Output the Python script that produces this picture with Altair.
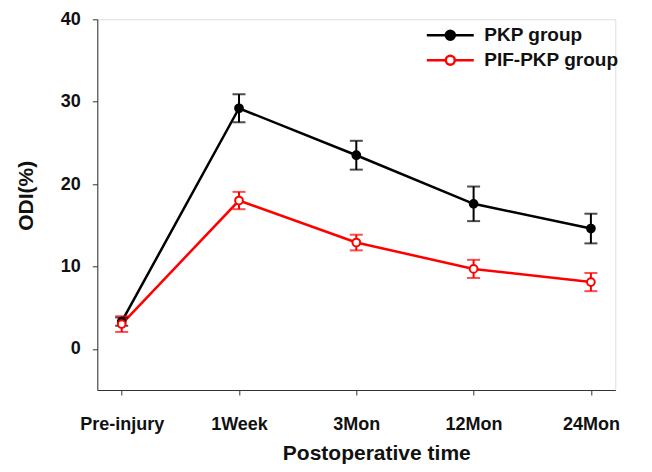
import altair as alt
import pandas as pd

times = ["Pre-injury", "1Week", "3Mon", "12Mon", "24Mon"]
groups = ["PKP group", "\u2004PIF-PKP group"]
pkp_mean = [3.3, 29.2, 23.5, 17.6, 14.6]
pkp_err = [0.5, 1.7, 1.75, 2.1, 1.8]
pif_mean = [3.0, 18.0, 12.9, 9.7, 8.1]
pif_err = [0.95, 1.05, 0.95, 1.1, 1.1]

rows = []
for g, means, errs in [(groups[0], pkp_mean, pkp_err), (groups[1], pif_mean, pif_err)]:
    for t, m, e in zip(times, means, errs):
        rows.append({"time": t, "group": g, "mean": m, "lo": m - e, "hi": m + e})
df = pd.DataFrame(rows)

FONT = "Liberation Sans"
stroke_colors = ["#000000", "#ff0000"]
fill_colors = ["#000000", "#ffffff"]

x_enc = alt.X(
    "time:N",
    sort=times,
    scale=alt.Scale(type="point", padding=0.208),
    axis=alt.Axis(
        title="Postoperative time",
        labelAngle=0,
        labelFont=FONT, labelFontSize=18, labelFontWeight="bold", labelColor="#111",
        labelBaseline="alphabetic", labelPadding=34,
        tickSize=5, tickColor="#333", domainColor="#333",
        titleFont=FONT, titleFontSize=21, titleFontWeight="bold", titleColor="#111",
        titleX=279, titleY=69, titleBaseline="alphabetic", titleAlign="center",
        grid=False,
    ),
)
y_scale = alt.Scale(domain=[-5, 40], nice=False, zero=False)
y_axis = alt.Axis(
    title="ODI(%)",
    values=[0, 10, 20, 30, 40],
    labelFont=FONT, labelFontSize=18, labelFontWeight="bold", labelColor="#111",
    labelPadding=12, tickSize=5, tickColor="#333", domainColor="#333",
    titleFont=FONT, titleFontSize=21, titleFontWeight="bold", titleColor="#111",
    titleX=-65, titleY=176, titleBaseline="alphabetic", titleAlign="center", titleAngle=-90,
    grid=False,
)

color_scale = alt.Scale(domain=groups, range=stroke_colors)
fill_scale = alt.Scale(domain=groups, range=fill_colors)
cond_color = alt.condition(
    alt.datum.group == groups[0], alt.value(stroke_colors[0]), alt.value(stroke_colors[1])
)

legend_symbol = ("M-2.5,0L-0.48,0M0.48,0L2.5,0"
                 "M-0.48,0A0.48,0.48,0,1,1,0.48,0A0.48,0.48,0,1,1,-0.48,0Z")

legend = alt.Legend(
    title=None, orient="none", legendX=342, legendY=5,
    symbolType=legend_symbol, symbolSize=353, symbolStrokeWidth=2.5,
    symbolFillColor="white", symbolOpacity=1,
    labelFont=FONT, labelFontSize=19, labelFontWeight="bold", labelColor="#111",
    labelOffset=23, rowPadding=4, padding=0,
)

base = alt.Chart(df)

lines = base.mark_line(strokeWidth=2.5).encode(
    x=x_enc,
    y=alt.Y("mean:Q", scale=y_scale, axis=y_axis),
    color=cond_color,
    detail="group:N",
)

errs = base.mark_errorbar(ticks={"size": 13, "thickness": 2}, thickness=2).encode(
    x=x_enc,
    y=alt.Y("lo:Q", scale=y_scale, title="ODI(%)"),
    y2="hi:Q",
    color=cond_color,
    detail="group:N",
)

points = base.mark_point(filled=False, size=60, strokeWidth=2, opacity=1, shape="circle").encode(
    x=x_enc,
    y=alt.Y("mean:Q", scale=y_scale),
    color=alt.Color("group:N", scale=color_scale, legend=legend),
    fill=alt.Fill("group:N", scale=fill_scale, legend=legend),
)

chart = alt.layer(lines, errs, points).properties(
    width=518, height=370.7,
    autosize=alt.AutoSizeParams(type="none"),
    padding={"left": 89.3, "top": 11.3, "right": 28.7, "bottom": 74},
).configure_view(stroke=None).configure(background="white")

chart.save("out.html", embed_options={"renderer": "svg", "actions": False})
